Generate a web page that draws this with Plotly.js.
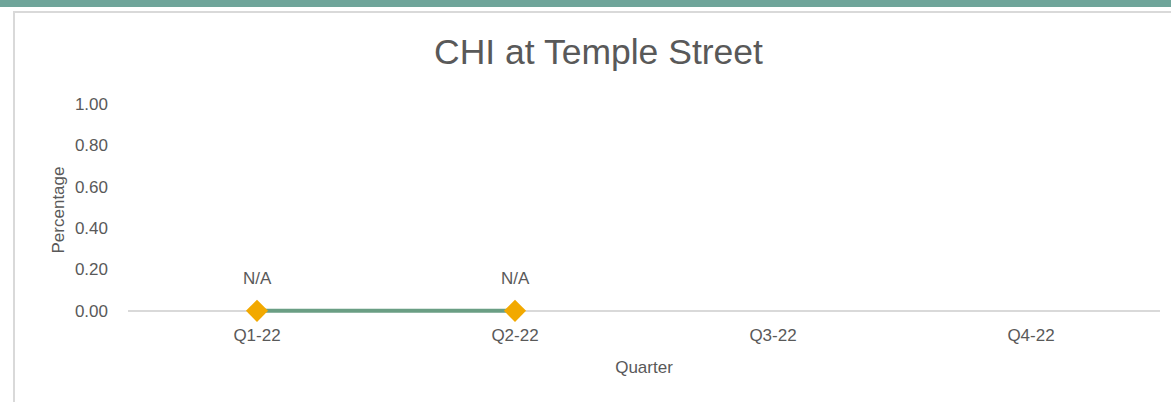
<!DOCTYPE html>
<html>
<head>
<meta charset="utf-8">
<script src="https://cdn.plot.ly/plotly-3.0.1.min.js"></script>
<style>
  html, body { margin: 0; padding: 0; background: #fff; }
  #wrap { position: relative; width: 1171px; height: 402px; overflow: hidden; }
  #bar { position: absolute; left: 0; top: 0; width: 1171px; height: 7px; background: #6fa59a; }
  #frame { position: absolute; left: 13px; top: 11px; width: 1200px; height: 420px;
           border-left: 2px solid #d9d9d9; border-top: 2px solid #d9d9d9; }
  #chart { position: absolute; left: 0; top: 0; width: 1171px; height: 402px; }
</style>
</head>
<body>
<div id="wrap">
  <div id="bar"></div>
  <div id="frame"></div>
  <div id="chart"></div>
</div>
<script>
const categories = ["Q1-22", "Q2-22", "Q3-22", "Q4-22"];
const values = [0, 0, null, null];
const dataLabels = ["N/A", "N/A", "", ""];
const yTickVals = [0, 0.2, 0.4, 0.6, 0.8, 1.0];
const yTickText = ["0.00", "0.20", "0.40", "0.60", "0.80", "1.00"];

const narrow = '"Liberation Sans Narrow", "Arial Narrow", "Liberation Sans", Arial, sans-serif';
const txt = '#595959';
const fs = 17;

const trace = {
  x: categories,
  y: values,
  type: 'scatter',
  mode: 'lines+markers',
  line: { color: '#6a9e84', width: 4 },
  marker: { symbol: 'diamond', size: 17, color: '#f2a900' },
  connectgaps: false,
  hoverinfo: 'skip',
  showlegend: false,
  cliponaxis: false
};

const annotations = categories.map((c, i) => (dataLabels[i] && values[i] !== null) ? {
  x: c, y: values[i], xref: 'x', yref: 'y',
  text: dataLabels[i], showarrow: false, yshift: 32,
  font: { family: narrow, size: fs, color: txt }
} : null).filter(a => a);

const layout = {
  width: 1171, height: 402,
  paper_bgcolor: 'rgba(0,0,0,0)', plot_bgcolor: 'rgba(0,0,0,0)',
  margin: { l: 128, r: 11, t: 104, b: 85.8, pad: 0 },
  title: {
    text: 'CHI at Temple Street',
    font: { family: '"Liberation Sans", Arial, sans-serif', size: 35.5, color: txt },
    xref: 'container', x: 598.5 / 1171, xanchor: 'center',
    yref: 'container', y: 1 - 52 / 402, yanchor: 'middle'
  },
  xaxis: {
    type: 'category',
    categoryarray: categories,
    range: [-0.5, 3.5],
    showline: false,
    showgrid: false, zeroline: false, ticks: '',
    ticklabelstandoff: 7,
    tickfont: { family: narrow, size: fs, color: txt },
    title: { text: 'Quarter', standoff: 17, font: { family: narrow, size: fs, color: txt } },
    fixedrange: true
  },
  yaxis: {
    range: [-0.025, 1],
    tickvals: yTickVals, ticktext: yTickText,
    showline: false, showgrid: false,
    zeroline: true, zerolinecolor: '#d9d9d9', zerolinewidth: 2,
    ticks: '',
    ticklabelstandoff: 19,
    tickfont: { family: narrow, size: fs, color: txt },
    title: { text: 'Percentage', standoff: 5, font: { family: narrow, size: fs, color: txt } },
    fixedrange: true
  },
  annotations: annotations
};

Plotly.newPlot('chart', [trace], layout, { staticPlot: true, displayModeBar: false });
</script>
</body>
</html>
